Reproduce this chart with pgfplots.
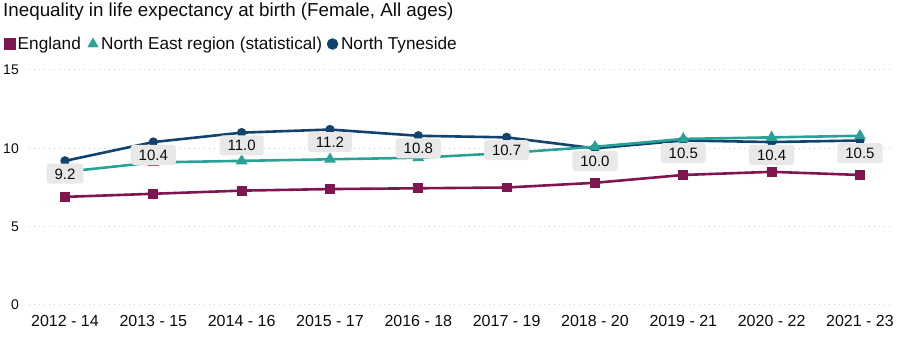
\documentclass[border=0pt]{standalone}
\usepackage{fontspec}
\setmainfont{Liberation Sans}
\usepackage{pgfplots}
\usepackage{pgfplotstable}
\pgfplotsset{compat=1.18}
\definecolor{eng}{HTML}{801650}
\definecolor{ne}{HTML}{28A197}
\definecolor{nt}{HTML}{12436D}
\definecolor{gridc}{HTML}{CFCFCF}
\definecolor{lbl}{HTML}{E8E8E8}
\definecolor{txt}{HTML}{0B0C0C}
\pgfplotsset{legmark/.style={legend image code/.code={\draw[mark repeat=2,mark phase=2,##1] plot coordinates {(0pt,0pt)(5.5pt,0pt)(11pt,0pt)};}}}

\pgfplotstableread{
x eng ne nt
0 6.9 8.5 9.2
1 7.1 9.1 10.4
2 7.3 9.2 11.0
3 7.4 9.3 11.2
4 7.45 9.4 10.8
5 7.5 9.7 10.7
6 7.8 10.1 10.0
7 8.3 10.6 10.5
8 8.5 10.7 10.4
9 8.3 10.8 10.5
}\lifedata

\begin{document}
\begin{tikzpicture}
\useasboundingbox (-29pt,-32pt) rectangle (873pt,305pt);
\begin{axis}[scale only axis,width=864pt,height=235pt,
  xmin=-0.4075,xmax=9.374,ymin=0,ymax=15,
  axis line style={draw=none},tick style={draw=none},major tick length=0pt,
  ytick={0,5,10,15},xtick={0,...,9},
  xticklabels={2012 - 14,2013 - 15,2014 - 16,2015 - 17,2016 - 18,2017 - 19,2018 - 20,2019 - 21,2020 - 22,2021 - 23},
  ymajorgrids,grid style={gridc,line width=1pt,dash pattern=on 1pt off 4pt},
  /pgf/number format/assume math mode=true,
  xticklabel style={font=\fontsize{16pt}{19pt}\selectfont,text=txt,anchor=north,inner sep=0pt,text height=11.5pt,yshift=-10pt},
  yticklabel style={font=\fontsize{14pt}{17pt}\selectfont,text=txt,anchor=east,inner sep=0pt,xshift=-10pt},
  legend style={draw=none,fill=none,legend columns=-1,font=\fontsize{17.2pt}{20pt}\selectfont,text=txt,
    inner sep=0pt,nodes={inner sep=1.5pt},at={(axis description cs:-0.0295,1.1106)},anchor=west},
]
\addlegendimage{only marks,mark=square*,mark size=5.5pt,color=eng,legmark}
\addlegendentry{\kern1.5pt England\kern5.5pt}
\addlegendimage{only marks,mark=triangle*,mark size=6pt,color=ne,legmark}
\addlegendentry{\kern1.5pt North East region (statistical)\kern3.5pt}
\addlegendimage{only marks,mark=*,mark size=5.5pt,color=nt,legmark}
\addlegendentry{\kern1.5pt North Tyneside}

\addplot[forget plot,eng,line width=2.6pt,mark=square*,mark size=3.6pt] table[x=x,y=eng] {\lifedata};
\addplot[forget plot,nt,line width=2.6pt,mark=*,mark size=3.3pt] table[x=x,y=nt] {\lifedata};
\addplot[forget plot,ne,line width=2.6pt,mark=triangle*,mark size=4.2pt] table[x=x,y=ne] {\lifedata};
\addplot[forget plot,draw=none,nodes near coords,point meta=y,
  nodes near coords style={/pgf/number format/.cd,fixed,fixed zerofill,precision=1,assume math mode=true,/tikz/.cd},
  every node near coord/.append style={anchor=north,yshift=-2.5pt,fill=lbl,rounded corners=3pt,
    inner xsep=8pt,inner ysep=4.5pt,text height=11pt,text depth=0pt,
    font=\fontsize{15pt}{18pt}\selectfont,text=txt}] table[x=x,y=nt] {\lifedata};
\end{axis}
\node[anchor=base west,inner sep=0pt,font=\fontsize{18.8pt}{22pt}\selectfont,text=txt] at (-26pt,288pt)
  {Inequality in life expectancy at birth (Female, All ages)};
\end{tikzpicture}
\end{document}
